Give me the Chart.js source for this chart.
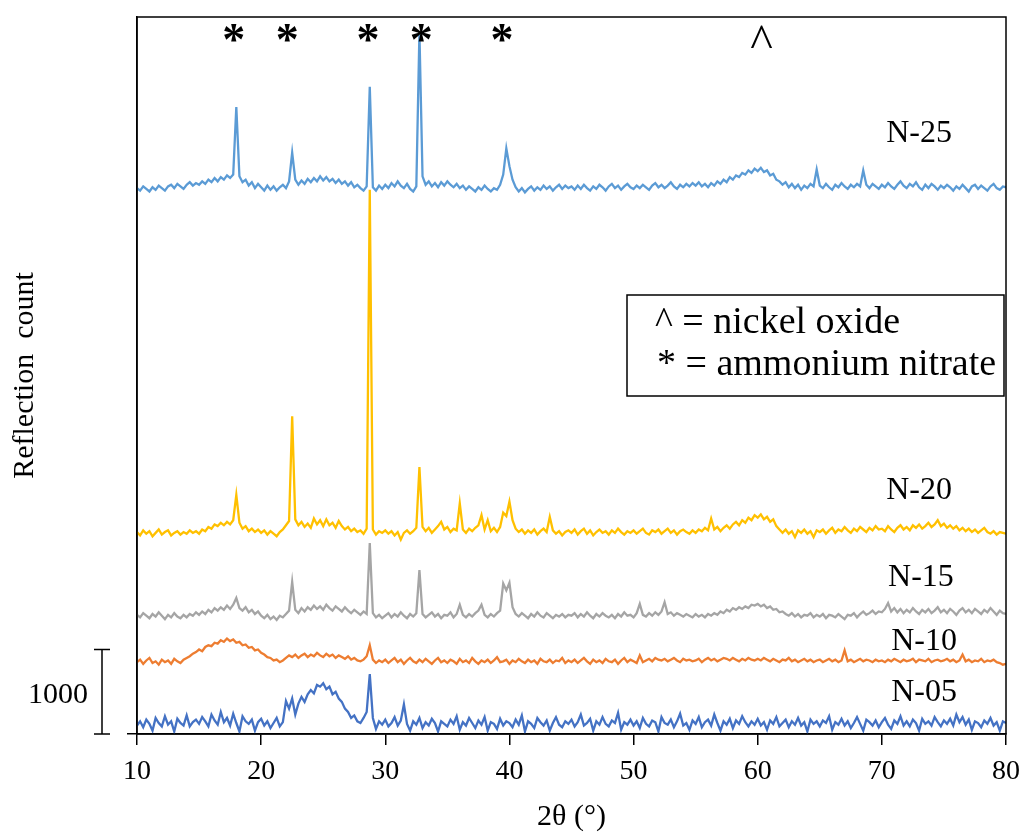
<!DOCTYPE html>
<html>
<head>
<meta charset="utf-8">
<title>XRD patterns N-05 to N-25</title>
<script src="https://cdn.jsdelivr.net/npm/chart.js@4.4.1/dist/chart.umd.min.js"></script>
<style>
	html, body { margin: 0; padding: 0; background: #fff; }
	#xrd { display: block; }
</style>
</head>
<body>
<canvas id="xrd" width="1030" height="832"></canvas>
<script>
// 2θ scan grid (degrees)
const twoTheta = [
	10,10.25,10.5,10.75,11,11.25,11.5,11.75,12,12.25,12.5,12.75,13,13.25,13.5,13.75,14,14.25,14.5,14.75,
	15,15.25,15.5,15.75,16,16.25,16.5,16.75,17,17.25,17.5,17.75,18,18.25,18.5,18.75,19,19.25,19.5,19.75,
	20,20.25,20.5,20.75,21,21.25,21.5,21.75,22,22.25,22.5,22.75,23,23.25,23.5,23.75,24,24.25,24.5,24.75,
	25,25.25,25.5,25.75,26,26.25,26.5,26.75,27,27.25,27.5,27.75,28,28.25,28.5,28.75,29,29.25,29.5,29.75,
	30,30.25,30.5,30.75,31,31.25,31.5,31.75,32,32.25,32.5,32.75,33,33.25,33.5,33.75,34,34.25,34.5,34.75,
	35,35.25,35.5,35.75,36,36.25,36.5,36.75,37,37.25,37.5,37.75,38,38.25,38.5,38.75,39,39.25,39.5,39.75,
	40,40.25,40.5,40.75,41,41.25,41.5,41.75,42,42.25,42.5,42.75,43,43.25,43.5,43.75,44,44.25,44.5,44.75,
	45,45.25,45.5,45.75,46,46.25,46.5,46.75,47,47.25,47.5,47.75,48,48.25,48.5,48.75,49,49.25,49.5,49.75,
	50,50.25,50.5,50.75,51,51.25,51.5,51.75,52,52.25,52.5,52.75,53,53.25,53.5,53.75,54,54.25,54.5,54.75,
	55,55.25,55.5,55.75,56,56.25,56.5,56.75,57,57.25,57.5,57.75,58,58.25,58.5,58.75,59,59.25,59.5,59.75,
	60,60.25,60.5,60.75,61,61.25,61.5,61.75,62,62.25,62.5,62.75,63,63.25,63.5,63.75,64,64.25,64.5,64.75,
	65,65.25,65.5,65.75,66,66.25,66.5,66.75,67,67.25,67.5,67.75,68,68.25,68.5,68.75,69,69.25,69.5,69.75,
	70,70.25,70.5,70.75,71,71.25,71.5,71.75,72,72.25,72.5,72.75,73,73.25,73.5,73.75,74,74.25,74.5,74.75,
	75,75.25,75.5,75.75,76,76.25,76.5,76.75,77,77.25,77.5,77.75,78,78.25,78.5,78.75,79,79.25,79.5,79.75,
	80
];

// Reflection counts, already stacked with the offsets used in the figure
const n05 = [
	100,150,80,170,120,40,190,130,90,210,110,150,30,180,130,100,220,90,140,170,
	120,200,150,90,230,160,110,260,140,190,100,240,130,30,210,150,120,170,40,140,
	180,100,150,70,130,190,90,140,390,300,420,230,360,440,380,470,520,480,580,560,
	600,530,560,470,500,420,380,300,260,190,220,150,130,190,260,710,190,60,150,110,
	170,90,130,200,100,160,350,120,40,150,110,190,70,140,100,180,130,30,150,120,
	90,170,120,210,50,140,100,190,130,70,160,110,200,40,140,120,60,180,100,150,
	130,80,170,110,220,30,150,120,70,190,140,100,160,40,130,200,110,80,150,120,
	170,90,140,230,100,130,180,40,150,110,200,120,90,160,130,250,50,140,110,170,
	100,150,70,190,120,90,160,140,30,200,130,110,170,80,150,240,100,130,50,160,
	120,200,80,140,170,100,230,130,40,150,110,180,70,160,120,210,140,90,150,110,
	180,100,140,50,160,120,200,90,130,170,80,150,110,190,100,140,30,170,120,150,
	90,160,130,210,50,140,110,180,100,150,70,130,200,120,40,170,140,100,160,80,
	140,190,110,60,160,120,210,100,150,90,170,130,40,180,120,150,100,200,140,90,
	160,120,180,100,230,140,200,110,170,50,150,130,80,160,120,190,100,140,40,150,
	130
];
const n10 = [
	850,880,830,870,900,840,860,820,880,850,870,830,890,860,840,880,900,920,950,970,
	1000,980,1030,1050,1040,1080,1070,1110,1090,1130,1100,1120,1080,1090,1050,1060,1020,1030,990,1000,
	960,940,910,900,870,880,850,870,900,930,910,940,900,930,950,910,940,920,960,930,
	910,950,920,940,900,930,910,890,920,880,900,870,860,880,920,1050,880,840,870,850,
	880,840,870,900,850,880,830,870,900,860,840,880,850,890,860,830,870,900,850,870,
	840,880,860,830,890,850,870,840,900,860,830,870,850,880,840,870,910,850,860,880,
	830,870,850,890,860,840,880,850,870,830,890,860,850,880,840,870,860,900,840,870,
	850,880,840,870,900,860,830,880,850,870,840,890,860,850,880,830,870,900,850,880,
	860,840,930,850,870,890,860,900,880,870,890,860,880,900,870,850,890,870,880,860,
	870,890,850,880,900,870,890,860,880,900,890,870,900,880,860,890,870,900,880,870,
	890,870,900,880,860,890,870,850,880,870,900,860,880,850,870,890,860,880,850,870,
	880,850,870,890,860,880,850,870,990,860,880,850,870,890,860,880,870,850,880,860,
	870,850,880,860,890,870,850,880,860,870,890,850,880,870,860,890,850,870,880,860,
	870,890,860,880,850,870,940,860,880,850,870,860,890,850,870,860,880,850,840,820,
	830
];
const n15 = [
	1410,1380,1430,1400,1370,1420,1390,1440,1400,1360,1410,1380,1430,1390,1370,1410,1380,1420,1400,1440,
	1410,1450,1420,1470,1440,1490,1460,1500,1470,1520,1480,1530,1610,1490,1460,1500,1440,1470,1420,1450,
	1400,1370,1410,1360,1390,1350,1400,1380,1420,1460,1800,1470,1430,1490,1450,1500,1470,1520,1480,1510,
	1470,1530,1490,1460,1510,1480,1450,1500,1460,1430,1470,1440,1410,1450,1420,2260,1430,1380,1410,1370,
	1400,1430,1380,1420,1390,1440,1400,1370,1420,1390,1430,1940,1420,1380,1410,1440,1390,1420,1370,1410,
	1400,1440,1380,1420,1530,1410,1380,1420,1390,1430,1460,1530,1410,1380,1420,1390,1430,1460,1780,1700,
	1790,1500,1420,1390,1430,1400,1370,1420,1390,1440,1400,1380,1430,1400,1370,1410,1390,1420,1380,1410,
	1400,1430,1380,1420,1390,1440,1400,1370,1420,1390,1430,1400,1380,1410,1370,1420,1390,1440,1400,1410,
	1380,1430,1540,1410,1390,1430,1400,1440,1410,1450,1560,1420,1440,1400,1430,1410,1390,1420,1400,1380,
	1420,1390,1410,1380,1420,1400,1430,1410,1450,1430,1470,1450,1490,1470,1500,1480,1510,1490,1530,1520,
	1540,1510,1530,1490,1510,1470,1480,1440,1450,1420,1400,1430,1390,1420,1380,1410,1400,1430,1380,1410,
	1390,1420,1370,1410,1400,1380,1420,1390,1360,1410,1400,1430,1380,1420,1450,1410,1430,1460,1420,1450,
	1440,1480,1550,1450,1490,1440,1480,1430,1470,1440,1490,1450,1420,1470,1440,1480,1430,1460,1500,1440,
	1470,1430,1480,1450,1410,1460,1490,1440,1470,1430,1480,1450,1420,1470,1440,1490,1450,1410,1460,1430,
	1420
];
const n20 = [
	2390,2350,2410,2370,2400,2340,2380,2420,2360,2390,2410,2350,2380,2400,2360,2390,2370,2410,2380,2400,
	2370,2420,2400,2450,2430,2480,2460,2500,2470,2510,2480,2530,2830,2500,2430,2460,2400,2430,2390,2420,
	2380,2410,2360,2400,2370,2340,2390,2420,2470,2520,3760,2540,2470,2510,2450,2490,2440,2550,2480,2530,
	2460,2540,2470,2500,2440,2520,2460,2420,2450,2400,2430,2390,2410,2370,2430,6440,2420,2360,2400,2380,
	2410,2370,2400,2350,2390,2300,2380,2410,2370,2400,2440,3160,2450,2400,2440,2380,2420,2460,2510,2420,
	2450,2390,2430,2410,2730,2420,2380,2430,2400,2440,2470,2590,2420,2530,2400,2440,2390,2450,2620,2580,
	2750,2530,2430,2390,2420,2370,2410,2380,2420,2360,2400,2430,2390,2570,2410,2370,2400,2350,2390,2410,
	2380,2420,2360,2400,2430,2370,2410,2350,2390,2420,2380,2400,2360,2410,2380,2430,2390,2360,2400,2380,
	2410,2370,2400,2430,2380,2360,2410,2390,2420,2370,2400,2430,2380,2410,2360,2400,2420,2390,2370,2410,
	2380,2420,2400,2440,2410,2550,2420,2450,2400,2440,2470,2430,2480,2510,2470,2530,2500,2560,2530,2590,
	2560,2600,2540,2570,2510,2540,2460,2420,2380,2420,2370,2400,2330,2410,2380,2420,2370,2400,2330,2410,
	2390,2420,2370,2410,2440,2380,2420,2400,2450,2410,2380,2430,2400,2450,2420,2390,2440,2410,2460,2420,
	2430,2400,2460,2420,2390,2440,2470,2420,2450,2410,2470,2440,2480,2430,2460,2500,2450,2480,2530,2460,
	2490,2440,2470,2430,2460,2410,2440,2400,2430,2390,2420,2380,2410,2440,2390,2370,2400,2360,2390,2380,
	2370
];
const n25 = [
	6460,6430,6480,6450,6420,6470,6440,6490,6460,6430,6480,6500,6460,6510,6480,6450,6500,6530,6490,6520,
	6500,6540,6510,6560,6530,6580,6540,6590,6560,6610,6580,6620,7420,6600,6530,6560,6490,6530,6460,6510,
	6470,6430,6490,6440,6480,6430,6470,6500,6460,6540,6880,6560,6500,6550,6510,6570,6530,6580,6540,6600,
	6550,6590,6540,6570,6520,6560,6510,6540,6490,6530,6470,6500,6460,6430,6480,7660,6470,6430,6490,6450,
	6500,6460,6520,6480,6540,6490,6460,6510,6450,6420,6480,8300,6600,6500,6540,6480,6520,6470,6530,6490,
	6540,6500,6470,6510,6460,6490,6440,6480,6450,6420,6470,6440,6490,6450,6420,6460,6440,6500,6620,6930,
	6720,6560,6470,6420,6460,6410,6450,6480,6430,6470,6440,6490,6450,6480,6430,6470,6500,6450,6490,6460,
	6480,6440,6490,6450,6500,6460,6430,6480,6450,6500,6470,6430,6480,6510,6460,6490,6440,6480,6510,6470,
	6450,6490,6460,6500,6470,6440,6490,6520,6470,6500,6460,6490,6530,6480,6450,6500,6470,6510,6480,6520,
	6490,6530,6480,6510,6470,6520,6490,6540,6510,6560,6530,6590,6560,6610,6590,6640,6620,6670,6640,6690,
	6660,6700,6650,6670,6610,6630,6560,6540,6500,6530,6470,6510,6460,6500,6440,6490,6460,6510,6480,6680,
	6490,6460,6510,6470,6440,6500,6470,6520,6480,6450,6500,6470,6510,6480,6670,6500,6460,6510,6480,6450,
	6500,6470,6520,6480,6450,6500,6540,6490,6460,6510,6480,6530,6470,6440,6500,6460,6510,6480,6440,6490,
	6460,6500,6470,6430,6480,6450,6500,6460,6420,6480,6500,6450,6490,6460,6430,6480,6510,6460,6440,6480,
	6470
];

const seriesNames = ['N-05', 'N-10', 'N-15', 'N-20', 'N-25'];
const seriesColors = ['#4472C4', '#ED7D31', '#A5A5A5', '#FFC000', '#5B9BD5'];
const seriesValues = [n05, n10, n15, n20, n25];

// where each sample name sits (2θ, counts)
const labelX = [70.75, 70.75, 70.5, 70.35, 70.35];
const labelY = [485, 1090, 1850, 2880, 7100];

// phase markers along the top (2θ)
const nitratePeaks = [17.8, 22.1, 28.6, 32.9, 39.4];
const oxidePeaks = [60.3];

const scaleBarCounts = 1000;
const serif = '"Liberation Serif", "Times New Roman", serif';

const overlayPlugin = {
	id: 'xrdOverlay',
	afterDraw(chart) {
		const { ctx, chartArea: area, scales: { x, y } } = chart;
		ctx.save();

		// box round the plot area
		ctx.strokeStyle = '#000';
		ctx.lineWidth = 1.5;
		ctx.strokeRect(area.left, area.top, area.right - area.left, area.bottom - area.top);

		// 1000 counts scale bar left of the axis
		const barX = area.left - 35;
		const y0 = y.getPixelForValue(0);
		const y1 = y.getPixelForValue(scaleBarCounts);
		ctx.beginPath();
		ctx.moveTo(barX, y0); ctx.lineTo(barX, y1);
		ctx.moveTo(barX - 8, y0); ctx.lineTo(barX + 8, y0);
		ctx.moveTo(barX - 8, y1); ctx.lineTo(barX + 8, y1);
		ctx.stroke();
		ctx.fillStyle = '#000';
		ctx.font = '30px ' + serif;
		ctx.textAlign = 'right';
		ctx.textBaseline = 'middle';
		ctx.fillText(String(scaleBarCounts), barX - 14, (y0 + y1) / 2 + 3);

		// peak markers
		ctx.textAlign = 'center';
		ctx.textBaseline = 'alphabetic';
		ctx.font = 'bold 46px ' + serif;
		nitratePeaks.forEach(p => ctx.fillText('*', x.getPixelForValue(p), area.top + 38));
		ctx.font = '48px ' + serif;
		oxidePeaks.forEach(p => ctx.fillText('^', x.getPixelForValue(p), area.top + 40));

		// sample names
		ctx.font = '32px ' + serif;
		ctx.textAlign = 'left';
		ctx.textBaseline = 'middle';
		seriesNames.forEach((name, i) => {
			ctx.fillText(name, x.getPixelForValue(labelX[i]), y.getPixelForValue(labelY[i]));
		});

		// key box
		ctx.lineWidth = 1.5;
		ctx.strokeRect(627, 295, 377, 101);
		ctx.font = '38px ' + serif;
		ctx.textBaseline = 'alphabetic';
		ctx.fillText('^ = nickel oxide', 655, 333);
		ctx.fillText('* = ammonium nitrate', 657, 375);

		ctx.restore();
	}
};

const datasets = seriesValues.map((vals, k) => ({
	label: seriesNames[k],
	data: vals.map((v, i) => ({ x: twoTheta[i], y: v })),
	borderColor: seriesColors[k],
	borderWidth: 2.3,
	pointRadius: 0,
	fill: false,
	tension: 0
}));

new Chart(document.getElementById('xrd'), {
	type: 'line',
	data: { datasets },
	options: {
		responsive: false,
		animation: false,
		layout: { padding: { top: 17, right: 22, bottom: 0, left: 0 } },
		plugins: {
			legend: { display: false },
			tooltip: { enabled: false }
		},
		scales: {
			x: {
				type: 'linear',
				min: 10,
				max: 80,
				ticks: {
					stepSize: 10,
					color: '#000',
					padding: 10,
					font: { family: serif, size: 28 }
				},
				grid: { drawOnChartArea: false, tickLength: 11, color: '#000', lineWidth: 1.5 },
				border: { color: '#000', width: 1.5 },
				title: {
					display: true,
					text: '2θ (°)',
					color: '#000',
					font: { family: serif, size: 30, lineHeight: 1 },
					padding: { top: 0, bottom: 0 }
				},
				afterFit: s => { s.height = 98; }
			},
			y: {
				type: 'linear',
				min: 0,
				max: 8485,
				ticks: { display: false, stepSize: 1000 },
				afterBuildTicks: s => { s.ticks = s.ticks.filter(t => t.value % 1000 === 0); },
				grid: { drawOnChartArea: false, tickLength: 10, color: '#000', lineWidth: 1.5 },
				border: { color: '#000', width: 1.5 },
				title: {
					display: true,
					text: 'Reflection  count',
					color: '#000',
					font: { family: serif, size: 30, lineHeight: 1 },
					padding: { top: 10, bottom: 0 }
				},
				afterFit: s => { s.width = 137; }
			}
		}
	},
	plugins: [overlayPlugin]
});
</script>
</body>
</html>
